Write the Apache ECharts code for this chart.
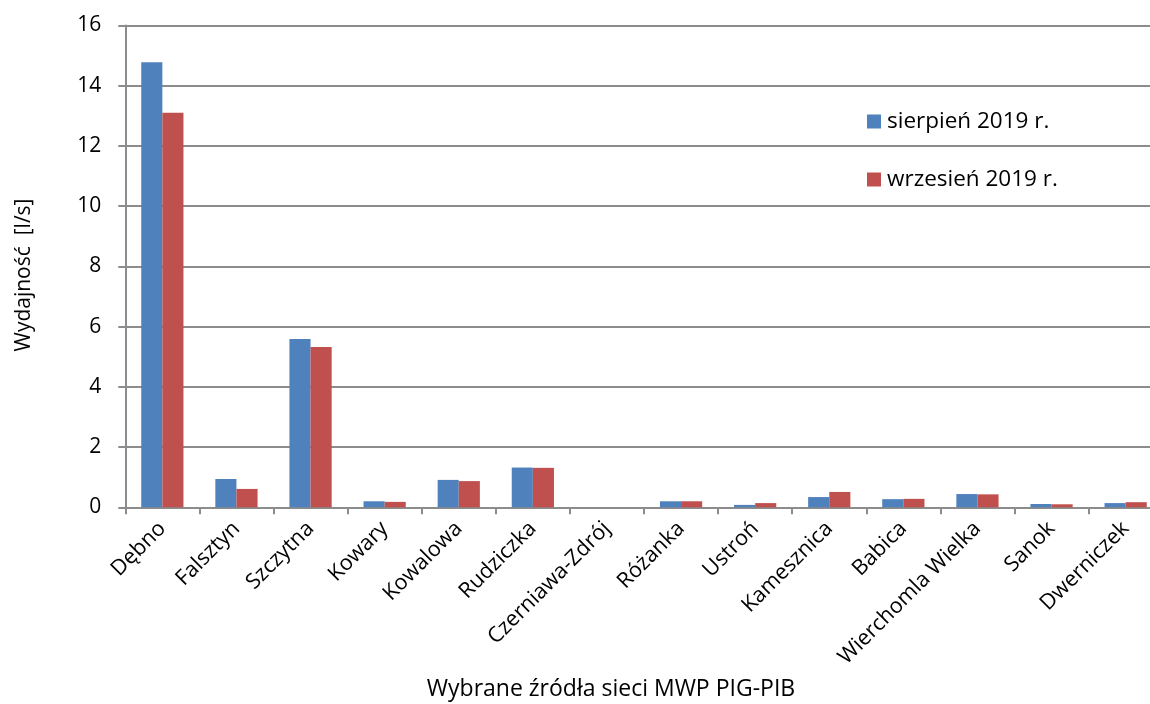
<!DOCTYPE html>
<html>
<head>
<meta charset="utf-8">
<script src="https://cdn.jsdelivr.net/npm/echarts@6/dist/echarts.min.js"></script>
<style>
html,body{margin:0;padding:0;background:#fff;}
#chart{width:1150px;height:704px;}
</style>
</head>
<body>
<div id="chart"></div>
<script>
const categories = ['Dębno','Falsztyn','Szczytna','Kowary','Kowalowa','Rudziczka','Czerniawa-Zdrój','Różanka','Ustroń','Kamesznica','Babica','Wierchomla Wielka','Sanok','Dwerniczek'];
const seriesNames = ['sierpień 2019 r.','wrzesień 2019 r.'];
const august = [14.78, 0.94, 5.59, 0.20, 0.91, 1.32, 0, 0.20, 0.08, 0.34, 0.27, 0.44, 0.11, 0.14];
const september = [13.10, 0.61, 5.32, 0.18, 0.87, 1.31, 0, 0.20, 0.14, 0.51, 0.28, 0.43, 0.10, 0.17];
const yTicks = [0, 2, 4, 6, 8, 10, 12, 14, 16];
const yTitle = 'Wydajność  [l/s]';
const xTitle = 'Wybrane źródła sieci MWP PIG-PIB';

const FONT = '"Open Sans", sans-serif';
const chart = echarts.init(document.getElementById('chart'));
chart.setOption({
  animation: false,
  backgroundColor: '#fff',
  textStyle: { fontFamily: FONT },
  grid: { left: 125.3, right: -12.7, top: 25.5, bottom: 196.7, containLabel: false, outerBoundsMode: 'none' },
  legend: {
    orient: 'vertical',
    left: 862, top: 105,
    itemWidth: 14, itemHeight: 14, itemGap: 35,
    icon: 'rect',
    textStyle: { fontSize: 22.5, color: '#000', fontFamily: FONT, padding: [0,0,0,1] },
    data: seriesNames
  },
  xAxis: {
    type: 'category',
    data: categories,
    axisLine: { lineStyle: { color: '#8c8c8c', width: 2 } },
    axisTick: { show: true, interval: 0, length: 7, lineStyle: { color: '#8c8c8c', width: 2 } },
    axisLabel: { interval: 0, rotate: 45, fontSize: 21.5, color: '#000', margin: 18, fontFamily: FONT },
    splitLine: { show: false }
  },
  yAxis: {
    type: 'value',
    min: yTicks[0], max: yTicks[yTicks.length-1], interval: 2,
    axisLine: { show: true, lineStyle: { color: '#8c8c8c', width: 2 } },
    axisTick: { show: true, length: 7, lineStyle: { color: '#8c8c8c', width: 2 } },
    axisLabel: { fontSize: 21, color: '#000', margin: 24, fontFamily: FONT },
    splitLine: { show: true, lineStyle: { color: '#8c8c8c', width: 2 } }
  },
  graphic: [
    { type: 'text', x: 24, y: 275, rotation: Math.PI/2,
      style: { text: yTitle, fontSize: 21, fill: '#000', fontFamily: FONT, align: 'center', verticalAlign: 'middle' } },
    { type: 'text', x: 611, y: 689,
      style: { text: xTitle, fontSize: 23, fill: '#000', fontFamily: FONT, align: 'center', verticalAlign: 'middle' } }
  ],
  series: [
    { name: seriesNames[0], type: 'bar', data: august, barGap: '0%', barCategoryGap: '43%',
      itemStyle: { color: '#4F81BD' } },
    { name: seriesNames[1], type: 'bar', data: september, barGap: '0%', barCategoryGap: '43%',
      itemStyle: { color: '#C0504D' } }
  ]
});
</script>
</body>
</html>
